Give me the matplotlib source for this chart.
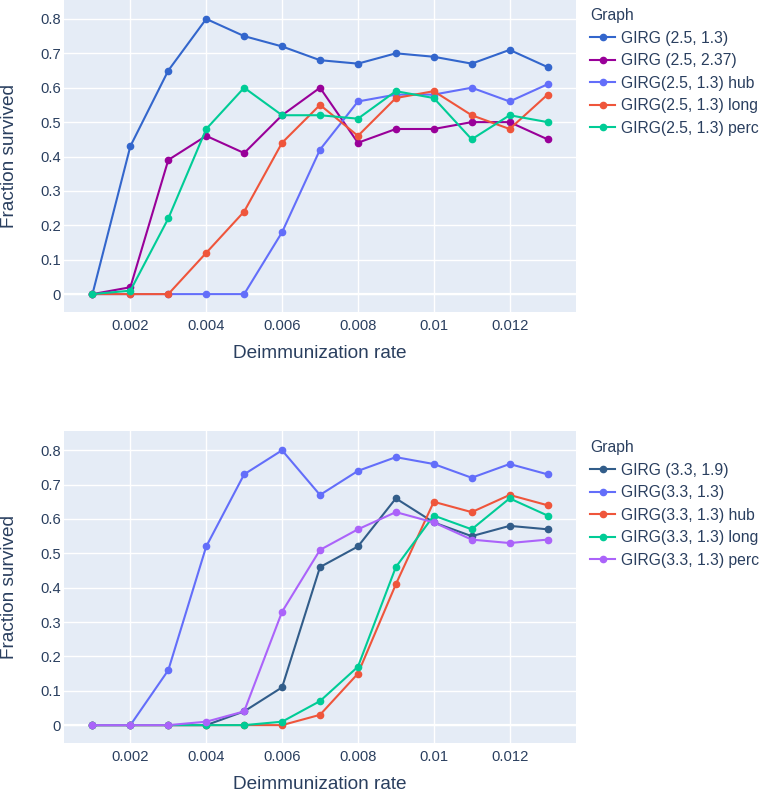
import matplotlib
matplotlib.use("Agg")
from matplotlib import pyplot as plt

# Data
rates = [0.001, 0.002, 0.003, 0.004, 0.005, 0.006, 0.007,
         0.008, 0.009, 0.010, 0.011, 0.012, 0.013]

top_labels = ["GIRG (2.5, 1.3)", "GIRG (2.5, 2.37)", "GIRG(2.5, 1.3) hub",
              "GIRG(2.5, 1.3) long", "GIRG(2.5, 1.3) perc"]
girg_25_13 = [0, 0.43, 0.65, 0.80, 0.75, 0.72, 0.68, 0.67, 0.70, 0.69, 0.67, 0.71, 0.66]
girg_25_237 = [0, 0.02, 0.39, 0.46, 0.41, 0.52, 0.60, 0.44, 0.48, 0.48, 0.50, 0.50, 0.45]
girg_25_hub = [0, 0, 0, 0, 0, 0.18, 0.42, 0.56, 0.58, 0.58, 0.60, 0.56, 0.61]
girg_25_long = [0, 0, 0, 0.12, 0.24, 0.44, 0.55, 0.46, 0.57, 0.59, 0.52, 0.48, 0.58]
girg_25_perc = [0, 0.01, 0.22, 0.48, 0.60, 0.52, 0.52, 0.51, 0.59, 0.57, 0.45, 0.52, 0.50]

bottom_labels = ["GIRG (3.3, 1.9)", "GIRG(3.3, 1.3)", "GIRG(3.3, 1.3) hub",
                 "GIRG(3.3, 1.3) long", "GIRG(3.3, 1.3) perc"]
girg_33_19 = [0, 0, 0, 0, 0.04, 0.11, 0.46, 0.52, 0.66, 0.59, 0.55, 0.58, 0.57]
girg_33_13 = [0, 0, 0.16, 0.52, 0.73, 0.80, 0.67, 0.74, 0.78, 0.76, 0.72, 0.76, 0.73]
girg_33_hub = [0, 0, 0, 0, 0, 0, 0.03, 0.15, 0.41, 0.65, 0.62, 0.67, 0.64]
girg_33_long = [0, 0, 0, 0, 0, 0.01, 0.07, 0.17, 0.46, 0.61, 0.57, 0.66, 0.61]
girg_33_perc = [0, 0, 0, 0.01, 0.04, 0.33, 0.51, 0.57, 0.62, 0.59, 0.54, 0.53, 0.54]

top_colors = ["#3366CC", "#990099", "#636EFA", "#EF553B", "#00CC96"]
bottom_colors = ["#325D8A", "#636EFA", "#EF553B", "#00CC96", "#AB63FA"]

TEXT = "#2a3f5f"
plt.rcParams["font.family"] = ["Liberation Sans", "DejaVu Sans"]

W, H = 766, 791
fig = plt.figure(figsize=(W / 100, H / 100), dpi=100)


def make_panel(top_px, bottom_px, series, labels, colors, ytop, legend_top):
    ax = fig.add_axes([64 / W, 1 - bottom_px / H, 512 / W, (bottom_px - top_px) / H])
    ax.set_facecolor("#E5ECF6")
    for s in ax.spines.values():
        s.set_visible(False)
    for ys, lab, c in zip(series, labels, colors):
        ax.plot(rates, ys, color=c, lw=1.5, marker="o", markersize=4.5, label=lab)
    ax.set_xlim(0.00025, 0.01375)
    ax.set_ylim(-0.052, ytop)
    ax.set_xticks([0.002, 0.004, 0.006, 0.008, 0.010, 0.012])
    ax.set_xticklabels(["0.002", "0.004", "0.006", "0.008", "0.01", "0.012"])
    ax.set_yticks([0, 0.1, 0.2, 0.3, 0.4, 0.5, 0.6, 0.7, 0.8])
    ax.set_yticklabels(["0", "0.1", "0.2", "0.3", "0.4", "0.5", "0.6", "0.7", "0.8"])
    ax.grid(True, color="white", lw=1)
    ax.set_axisbelow(True)
    ax.axhline(0, color="white", lw=1.6, zorder=0.5)
    ax.tick_params(axis="both", length=0, labelsize=10.6, labelcolor=TEXT)
    ax.tick_params(axis="x", pad=5)
    ax.tick_params(axis="y", pad=2)
    ax.set_xlabel("Deimmunization rate", fontsize=13.7, color=TEXT, labelpad=9)
    fig.text(9.5 / W, 1 - (top_px + bottom_px) / 2 / H, "Fraction survived",
             rotation=90, fontsize=13.7, color=TEXT, ha="center", va="center")
    leg = ax.legend(loc="upper left", bbox_to_anchor=(590 / W, 1 - legend_top / H),
                    bbox_transform=fig.transFigure, frameon=False, title="Graph",
                    fontsize=11.3, title_fontsize=11.3, handlelength=1.6,
                    handletextpad=0.4, labelspacing=0.48, borderpad=0,
                    borderaxespad=0, alignment="left")
    for t in leg.get_texts():
        t.set_color(TEXT)
    leg.get_title().set_color(TEXT)
    return ax


make_panel(0, 312, [girg_25_13, girg_25_237, girg_25_hub, girg_25_long, girg_25_perc],
           top_labels, top_colors, 0.855, 8)
make_panel(430.7, 743, [girg_33_19, girg_33_13, girg_33_hub, girg_33_long, girg_33_perc],
           bottom_labels, bottom_colors, 0.857, 440)

fig.savefig("out.png", dpi=100)
